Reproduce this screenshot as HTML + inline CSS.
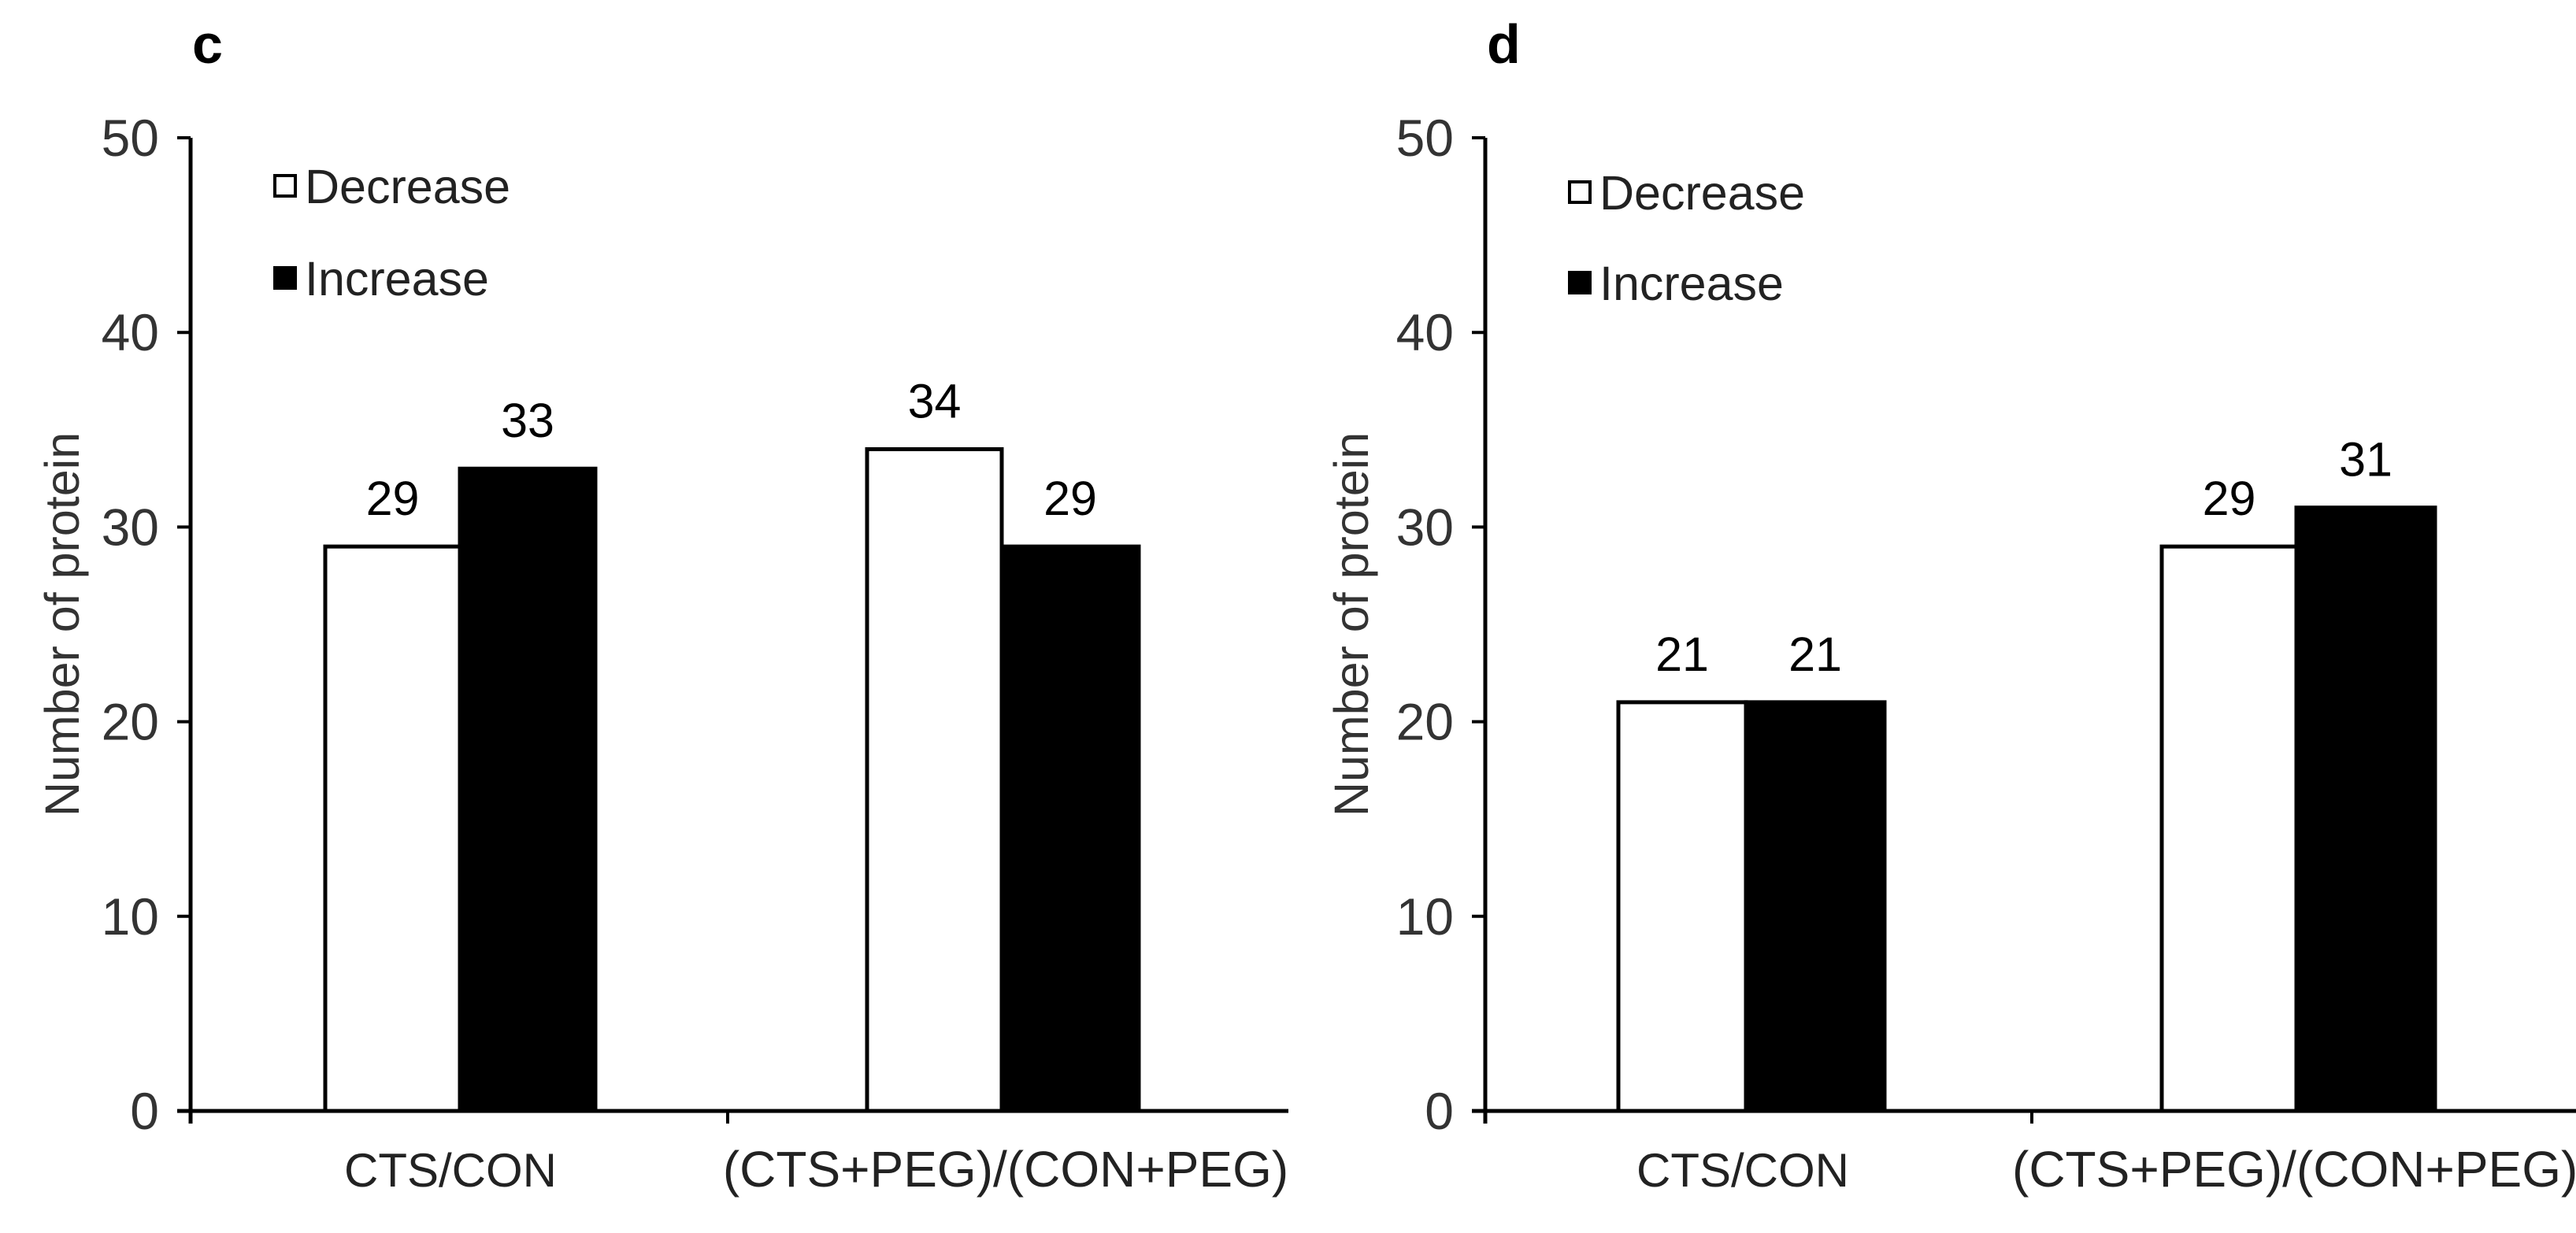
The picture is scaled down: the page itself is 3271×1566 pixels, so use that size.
<!DOCTYPE html>
<html><head><meta charset="utf-8"><style>
html,body{margin:0;padding:0;background:#fff;}
svg{display:block;font-family:"Liberation Sans",Arial,sans-serif;}
</style></head><body>
<svg id="fig" width="3271" height="1566" viewBox="0 0 3271 1566" xmlns="http://www.w3.org/2000/svg"></svg>
<script>
const categories = ["CTS/CON", "(CTS+PEG)/(CON+PEG)"];
const seriesNames = ["Decrease", "Increase"];
const panelCDecrease = [29, 34];
const panelCIncrease = [33, 29];
const panelDDecrease = [21, 29];
const panelDIncrease = [21, 31];
const yTicks = [0, 10, 20, 30, 40, 50];

const NS = "http://www.w3.org/2000/svg";
const svg = document.getElementById("fig");
function mk(tag, attrs, parent) {
  const e = document.createElementNS(NS, tag);
  for (const k in attrs) e.setAttribute(k, attrs[k]);
  (parent || svg).appendChild(e);
  return e;
}
const y0 = 1411, yTop = 175, yMax = 50;
function yScale(v) { return y0 - (v / yMax) * (y0 - yTop); }

function panel(cfg) {
  const g = mk("g", {});
  
  
  const L = mk("text", {x: cfg.ax + 2, y: 80, "font-size": 70, "font-weight": "bold", fill: "#000"}, g);
  L.textContent = cfg.letter;
  
  
  const ya = mk("line", {x1: cfg.ax, y1: yTop, x2: cfg.ax, y2: y0 + 16, stroke: "#000", "stroke-width": 5}, g);
  
  
  yTicks.forEach(t => {
    const yy = yScale(t);
    const tk = mk("line", {x1: cfg.ax - 17, y1: yy, x2: cfg.ax, y2: yy, stroke: "#000", "stroke-width": 4}, g);
    
    
    const tl = mk("text", {x: cfg.ax - 40, y: yy + 23, "font-size": 66, "text-anchor": "end", fill: "#333"}, g);
    tl.textContent = t;
    
    
  });
  const yt = mk("text", {x: 0, y: 0, "font-size": 61, "text-anchor": "middle", fill: "#333", transform: `translate(${cfg.titleX},793) rotate(-90)`}, g);
  yt.textContent = "Number of protein";
  
  
  categories.forEach((c, i) => {
    const vals = [cfg.dec[i], cfg.inc[i]];
    vals.forEach((v, j) => {
      const x1 = cfg.barX[i][j], x2 = cfg.barX[i][j + 1];
      const top = yScale(v);
      const r = mk("rect", {x: x1, y: top, width: x2 - x1, height: y0 - top,
        fill: j === 0 ? "#fff" : "#000", stroke: "#000", "stroke-width": 5}, g);
      
      
      const vl = mk("text", {x: (x1 + x2) / 2, y: top - 40, "font-size": 61, "text-anchor": "middle", fill: "#000"}, g);
      vl.textContent = v;
      
      
    });
    const attrs = {y: 1507, "font-size": i === 0 ? 60 : 64, fill: "#222"};
    if (cfg.catStart && i === 1) { attrs.x = cfg.catStart; attrs["text-anchor"] = "start"; }
    else { attrs.x = cfg.catX[i]; attrs["text-anchor"] = "middle"; }
    const cl = mk("text", attrs, g);
    cl.textContent = c;
    
    
  });
  const xa = mk("line", {x1: cfg.ax - 17, y1: y0, x2: cfg.axEnd, y2: y0, stroke: "#000", "stroke-width": 5}, g);
  
  
  const mt = mk("line", {x1: cfg.midTick, y1: y0, x2: cfg.midTick, y2: y0 + 16, stroke: "#000", "stroke-width": 4}, g);
  
  
  seriesNames.forEach((s, j) => {
    const ly = cfg.legY[j];
    const sq = mk("rect", {x: cfg.legX, y: ly - 13, width: 26, height: 26, fill: j === 0 ? "#fff" : "#000", stroke: "#000", "stroke-width": 4}, g);
    
    
    const lt = mk("text", {x: cfg.legX + 38, y: ly + 22, "font-size": 61, fill: "#222"}, g);
    lt.textContent = s;
    
    
  });
}

panel({name: "panel-c", letter: "c", ax: 242, axEnd: 1636, midTick: 924, titleX: 100,
  dec: panelCDecrease, inc: panelCIncrease,
  barX: [[413, 584, 756], [1101, 1272, 1446]], catX: [572, 1277],
  legX: 349, legY: [236, 353]});
panel({name: "panel-d", letter: "d", ax: 1886, axEnd: 3271, midTick: 2580, titleX: 1737,
  dec: panelDDecrease, inc: panelDIncrease,
  barX: [[2055, 2217, 2393], [2745, 2916, 3092]], catX: [2213, 2917], catStart: 2555,
  legX: 1993, legY: [244, 359]});
</script>
</body></html>
